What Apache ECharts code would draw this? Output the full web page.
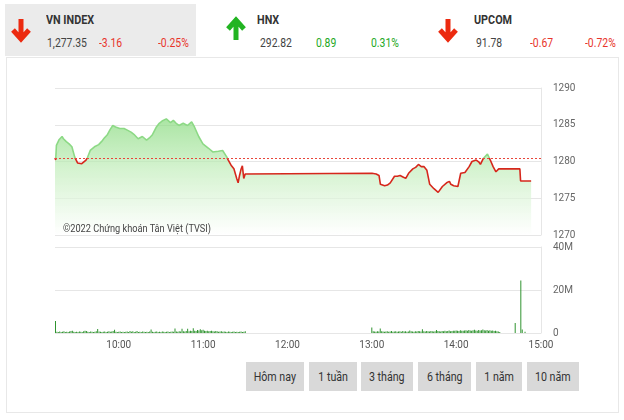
<!DOCTYPE html>
<html><head><meta charset="utf-8">
<script src="https://cdn.jsdelivr.net/npm/echarts@6/dist/echarts.min.js"></script>
<style>
body{margin:0;width:624px;height:420px;background:#fff;position:relative;overflow:hidden;font-family:Roboto,"Liberation Sans",sans-serif;}
.panel{position:absolute;left:5px;top:4px;width:191px;height:52px;background:#ebebeb;}
.box{position:absolute;left:6px;top:57px;width:613px;height:356px;border:1px solid #e8e8e8;box-sizing:border-box;}
.t{position:absolute;white-space:nowrap;font-size:13px;color:#444;transform:scaleX(0.8);transform-origin:0 0;}
.h{font-weight:bold;color:#333;top:11px;font-size:13.5px;}
.v{top:35px;}
.r{color:#e8352b;}
.g{color:#25a925;}
.btn{position:absolute;top:362px;height:29px;line-height:29px;background:#d9d9d9;text-align:center;font-size:13px;color:#333;}
.btn span{display:inline-block;transform:scaleX(0.82);}
.copy{position:absolute;left:63px;top:221px;font-size:11.5px;color:#444;white-space:nowrap;transform:scaleX(0.8);transform-origin:0 0;z-index:3;}
svg{position:absolute;}
#chart{position:absolute;left:0;top:0;width:624px;height:420px;z-index:2;}
</style></head>
<body>
<div class="panel"></div>
<div class="box"></div>
<svg style="left:10px;top:17px" width="22" height="26" viewBox="0 0 22 26"><path d="M11 2 V21 M3 13 L11 22 L19 13" stroke="#ec2a10" stroke-width="5" fill="none"/></svg>
<svg style="left:225px;top:16px" width="22" height="26" viewBox="0 0 22 26"><path d="M11 24 V5 M3 13 L11 4 L19 13" stroke="#22b422" stroke-width="5" fill="none"/></svg>
<svg style="left:437px;top:17px" width="22" height="26" viewBox="0 0 22 26"><path d="M11 2 V21 M3 13 L11 22 L19 13" stroke="#ec2a10" stroke-width="5" fill="none"/></svg>
<div class="t h" style="left:46px">VN INDEX</div>
<div class="t v" style="left:47px">1,277.35</div>
<div class="t v r" style="left:99px">-3.16</div>
<div class="t v r" style="left:158px">-0.25%</div>
<div class="t h" style="left:257px">HNX</div>
<div class="t v" style="left:260px">292.82</div>
<div class="t v g" style="left:316px">0.89</div>
<div class="t v g" style="left:371px">0.31%</div>
<div class="t h" style="left:474px">UPCOM</div>
<div class="t v" style="left:476px">91.78</div>
<div class="t v r" style="left:530px">-0.67</div>
<div class="t v r" style="left:585px">-0.72%</div>
<div class="btn" style="left:246px;width:58px"><span>Hôm nay</span></div>
<div class="btn" style="left:309px;width:48px"><span>1 tuần</span></div>
<div class="btn" style="left:361px;width:52px"><span>3 tháng</span></div>
<div class="btn" style="left:418px;width:53px"><span>6 tháng</span></div>
<div class="btn" style="left:476px;width:46px"><span>1 năm</span></div>
<div class="btn" style="left:527px;width:52px"><span>10 năm</span></div>
<div class="copy">©2022 Chứng khoán Tân Việt (TVSI)</div>
<div id="chart"></div>
<script>
const refPrice = 1280.51;
const priceTimes = ['09:15:00','09:15:30','09:16','09:18','09:20','09:21','09:23','09:25','09:27','09:29','09:31','09:32','09:34','09:35','09:37','09:38','09:40','09:43','09:46','09:48','09:50','09:52','09:54','09:56','09:58','10:01','10:04','10:06','10:09','10:11','10:14','10:17','10:20','10:22','10:24','10:27','10:29','10:31','10:34','10:37','10:39','10:41','10:43','10:46','10:49','10:52','10:54','10:57','11:00','11:02','11:04','11:07','11:11','11:14','11:17','11:18','11:20','11:22','11:24','11:25','11:26','11:27','11:28','11:29','11:30',
'13:00','13:03','13:05','13:06','13:09','13:11','13:13','13:16','13:18','13:20','13:22','13:24','13:26','13:29','13:31','13:33','13:35','13:37','13:39','13:41','13:44','13:47','13:50','13:53','13:55','13:56','13:58','14:01','14:02','14:03','14:06','14:09','14:11','14:14','14:16','14:17','14:19','14:22','14:24','14:26','14:28','14:29','14:30','14:45','14:45:30','14:53'];
const priceValues = [1280.5,1280.2,1282.2,1283.0,1283.4,1283.1,1282.7,1282.4,1282.0,1280.6,1279.8,1279.6,1279.7,1279.9,1280.2,1280.5,1281.5,1282.0,1282.3,1282.7,1283.2,1283.6,1284.3,1284.9,1284.7,1284.5,1284.5,1284.3,1284.0,1283.7,1283.1,1283.4,1282.9,1283.2,1283.6,1284.7,1285.2,1285.5,1285.8,1285.3,1285.6,1285.2,1284.9,1285.2,1284.9,1285.4,1284.7,1283.4,1282.4,1282.1,1281.8,1281.3,1281.4,1281.5,1280.6,1280.2,1279.5,1279.0,1277.7,1277.1,1278.1,1278.9,1279.4,1277.7,1278.3,
1278.4,1278.3,1278.1,1276.9,1276.7,1276.8,1277.1,1278.0,1278.0,1278.1,1277.9,1277.7,1278.4,1279.0,1279.2,1279.6,1279.3,1279.3,1278.8,1276.9,1276.3,1275.8,1276.6,1277.1,1277.3,1276.9,1276.7,1276.6,1276.8,1278.4,1278.5,1279.3,1280.0,1280.2,1279.9,1279.6,1280.4,1281.0,1280.2,1279.3,1278.6,1278.4,1279.0,1279.0,1277.35,1277.35];
// volume (millions) per minute, morning from 09:15, afternoon from 13:00
const volMorningStart = '09:15';
const volMorning = [5.6,0.6,0.5,0.7,0.5,0.6,0.8,0.5,0.6,0.5,
0.7,0.9,1.0,0.6,0.5,0.6,0.5,0.7,0.6,0.5,
0.8,1.0,0.9,0.6,0.5,0.7,0.6,0.5,0.6,0.8,
1.9,0.7,0.6,0.5,0.6,0.7,0.5,0.6,0.8,0.6,
0.7,0.9,1.5,0.6,0.5,0.6,0.7,0.5,0.6,0.5,
0.6,0.7,0.5,0.9,0.6,0.8,0.5,0.6,0.9,0.5,
0.6,0.5,0.7,0.6,0.5,0.6,0.5,0.7,1.6,0.6,
0.5,0.6,0.7,0.5,0.6,0.5,0.7,0.6,0.5,0.6,
0.7,0.5,0.6,0.7,0.6,2.1,0.7,0.6,0.8,0.7,
2.0,0.8,0.7,0.9,2.0,0.8,1.0,0.9,2.2,1.0,
0.9,1.4,1.2,1.8,1.3,1.5,1.0,0.9,1.1,0.8,
0.9,1.0,0.8,0.7,0.9,0.8,0.6,0.7,0.8,0.6,
0.7,0.6,0.5,0.7,0.6,0.5,0.6,0.7,0.5,0.6,
0.5,0.6,0.7,0.5,0.6,0.8];
const volAfternoonStart = '13:00';
const volAfternoon = [2.6,0.8,0.7,0.6,0.8,0.7,2.1,0.8,0.7,0.6,
0.7,0.8,0.6,0.7,0.9,0.6,0.7,0.8,0.6,0.7,
0.8,0.6,0.9,0.7,0.8,0.6,0.7,1.2,0.8,0.7,
0.6,0.8,0.7,0.9,0.8,0.7,1.8,0.8,0.7,0.9,
0.8,0.7,0.9,0.8,0.7,0.8,1.4,0.9,0.8,0.7,
0.9,0.8,1.0,0.8,0.9,1.2,0.8,0.9,1.1,1.0,
1.2,1.0,0.9,1.3,1.1,1.0,1.2,1.3,1.1,1.4,
1.2,1.0,1.3,1.5,1.2,1.1,1.4,1.2,1.3,1.6,
1.3,1.2,1.4,1.1,1.3,1.0,1.2,0.9,1.0,0.8,
0.7,0.5];
const volCloseTimes = ['14:42','14:46','14:47','14:49'];
const volCloseValues = [4.6,24.4,1.6,0.6];
const priceTicks = [1270,1275,1280,1285,1290];
const volTicks = ['0','20M','40M'];

function ts(s){const p=s.split(':').map(Number);return Date.UTC(2022,0,4,p[0],p[1],p[2]||0);}
const priceData = priceTimes.map((t,i)=>[ts(t),priceValues[i]]);
const volData = [];
volMorning.forEach((v,i)=>volData.push([ts(volMorningStart)+i*60000, v*1e6]));
volAfternoon.forEach((v,i)=>volData.push([ts(volAfternoonStart)+i*60000, v*1e6]));
volCloseTimes.forEach((t,i)=>volData.push([ts(t), volCloseValues[i]*1e6]));

const FONT = 'Roboto, sans-serif';
const xMin = ts('09:15'), xMax = ts('15:00');
const chart = echarts.init(document.getElementById('chart'), null, {renderer:'canvas'});
chart.setOption({
  useUTC: true,
  animation: false,
  textStyle: {fontFamily: FONT},
  grid: [
    {left:55, right:83, top:88, height:147},
    {left:55, right:83, top:247, height:86}
  ],
  xAxis: [
    {type:'time', gridIndex:0, min:xMin, max:xMax, minInterval:3600000, maxInterval:3600000,
     axisLine:{show:false}, axisTick:{show:false}, axisLabel:{show:false}, splitLine:{show:false}},
    {type:'time', gridIndex:1, min:xMin, max:xMax, minInterval:3600000, maxInterval:3600000,
     axisLine:{show:false}, axisTick:{show:false}, splitLine:{show:false},
     axisLabel:{formatter:'{HH}:{mm}', color:'#555', fontSize:10, fontFamily:FONT, margin:7, showMaxLabel:true, hideOverlap:false}}
  ],
  yAxis: [
    {type:'value', gridIndex:0, position:'right', min:priceTicks[0], max:priceTicks[priceTicks.length-1], interval:5,
     axisLine:{show:true, lineStyle:{color:'#e6e6e6'}}, axisTick:{show:false},
     axisLabel:{color:'#666', fontSize:10, fontFamily:FONT, margin:12, formatter:(v)=>String(v)},
     splitLine:{lineStyle:{color:'#e6e6e6'}}},
    {type:'value', gridIndex:1, position:'right', min:0, max:40e6, interval:20e6,
     axisLine:{show:true, lineStyle:{color:'#e6e6e6'}}, axisTick:{show:false},
     axisLabel:{color:'#666', fontSize:10, fontFamily:FONT, margin:12, formatter:(v)=>volTicks[Math.round(v/20e6)]},
     splitLine:{lineStyle:{color:'#e6e6e6'}}}
  ],
  visualMap: {type:'piecewise', show:false, seriesIndex:0, dimension:1,
    pieces:[{gt:refPrice, lte:1300, color:'#8cd985'},{gt:1260, lte:refPrice, color:'#d6271c'}]},
  series: [
    {type:'line', xAxisIndex:0, yAxisIndex:0, data:priceData, symbol:'none', lineStyle:{width:1.6},
     areaStyle:{color:new echarts.graphic.LinearGradient(0,0,0,1,[
        {offset:0,color:'#86d97c'},{offset:0.45,color:'#c4eebd'},{offset:1,color:'rgba(255,255,255,0.95)'}])},
     markLine:{silent:true, symbol:'none', label:{show:false},
       lineStyle:{color:'#e8453a', type:[2,2], width:1},
       data:[{yAxis:refPrice}]}},
    {type:'bar', xAxisIndex:1, yAxisIndex:1, data:volData, barWidth:1, itemStyle:{color:'#2f932f'}}
  ]
});
</script>
</body></html>
